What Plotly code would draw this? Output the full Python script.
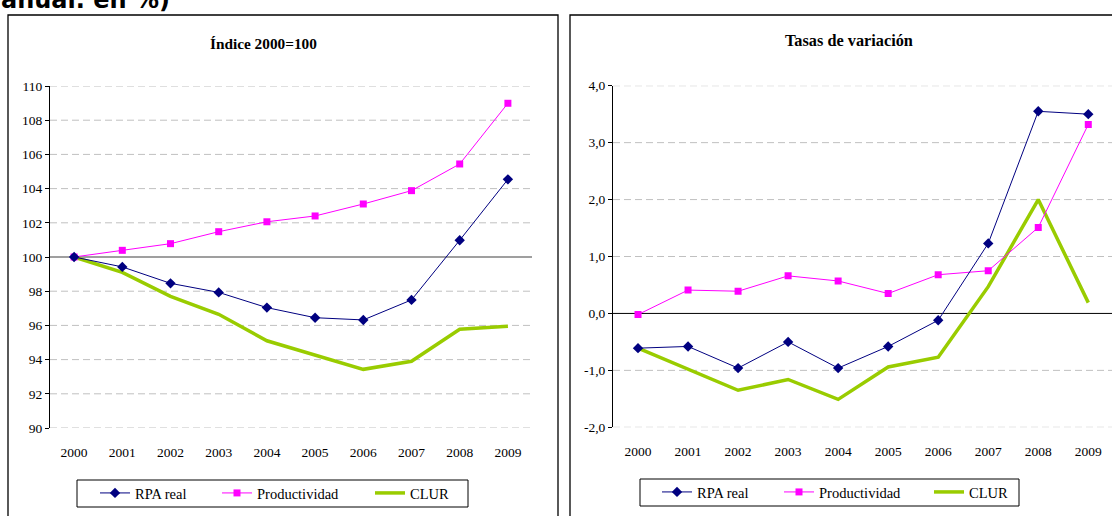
import plotly.graph_objects as go

# ---- data ----
years = ["2000", "2001", "2002", "2003", "2004", "2005", "2006", "2007", "2008", "2009"]

# Índice 2000=100
rpa_idx = [100.0, 99.42, 98.46, 97.93, 97.04, 96.45, 96.32, 97.49, 100.98, 104.54]
prod_idx = [100.0, 100.39, 100.78, 101.48, 102.06, 102.40, 103.10, 103.88, 105.44, 108.99]
clur_idx = [100.0, 99.10, 97.70, 96.65, 95.10, 94.25, 93.43, 93.90, 95.77, 95.95]

# Tasas de variación (%)
rpa_var = [-0.61, -0.58, -0.96, -0.50, -0.96, -0.58, -0.12, 1.23, 3.55, 3.50]
prod_var = [-0.02, 0.41, 0.39, 0.66, 0.57, 0.35, 0.68, 0.75, 1.51, 3.32]
clur_var = [-0.61, -0.98, -1.35, -1.16, -1.51, -0.94, -0.77, 0.47, 2.00, 0.19]

idx_ticks = [90, 92, 94, 96, 98, 100, 102, 104, 106, 108, 110]
idx_base = 100
var_ticks = [-2, -1, 0, 1, 2, 3, 4]
var_ticktext = ["-2,0", "-1,0", "0,0", "1,0", "2,0", "3,0", "4,0"]
var_base = 0

series_names = ["RPA real", "Productividad", "CLUR"]

# ---- styling ----
W, H = 1112, 516
NAVY = "#000080"
MAGENTA = "#FF00FF"
GREEN = "#99CC00"
GRID = "#C0C0C0"
SERIF = "Liberation Serif"


def fx(px):
    return px / W


def fy(py):
    return 1 - py / H


fig = go.Figure()

panels = [
    ("x", "y", rpa_idx, prod_idx, clur_idx, ["legend", "legend2", "legend3"]),
    ("x2", "y2", rpa_var, prod_var, clur_var, ["legend4", "legend5", "legend6"]),
]
for xa, ya, rpa, prod, clur, legs in panels:
    fig.add_trace(go.Scatter(
        x=years, y=clur, name=series_names[2], mode="lines",
        line=dict(color=GREEN, width=3.5), xaxis=xa, yaxis=ya, legend=legs[2]))
    fig.add_trace(go.Scatter(
        x=years, y=prod, name=series_names[1], mode="lines+markers",
        line=dict(color=MAGENTA, width=1),
        marker=dict(symbol="square", size=7, color=MAGENTA),
        xaxis=xa, yaxis=ya, legend=legs[1]))
    fig.add_trace(go.Scatter(
        x=years, y=rpa, name=series_names[0], mode="lines+markers",
        line=dict(color=NAVY, width=1),
        marker=dict(symbol="diamond", size=8, color=NAVY),
        xaxis=xa, yaxis=ya, legend=legs[0]))

common_x = dict(type="category", showline=False, showgrid=False, zeroline=False,
                ticks="", ticklabelstandoff=14,
                tickfont=dict(family=SERIF, size=13.5, color="black"))
common_y = dict(showline=True, linecolor="black", linewidth=1, ticks="outside",
                ticklen=4, tickcolor="black", showgrid=False, zeroline=False,
                tickfont=dict(family=SERIF, size=13.5, color="black"))

legend_base = dict(orientation="h", bgcolor="rgba(0,0,0,0)", borderwidth=0,
                   font=dict(family=SERIF, size=14.5, color="black"),
                   xanchor="left", yanchor="middle", itemclick=False)

legend_x = [100, 222, 375, 662, 784, 934]
legend_y = [493, 493, 493, 492, 492, 492]
legend_layout = {}
for i, (lx, ly) in enumerate(zip(legend_x, legend_y)):
    key = "legend" if i == 0 else f"legend{i + 1}"
    legend_layout[key] = dict(legend_base, x=fx(lx - 5), y=fy(ly))

fig.update_layout(
    width=W, height=H,
    margin=dict(l=0, r=0, t=0, b=0, autoexpand=False),
    paper_bgcolor="white", plot_bgcolor="white",
    font=dict(family=SERIF, color="black"),
    showlegend=True,
    xaxis=dict(common_x, domain=[fx(50), fx(532)], range=[-0.5, 9.5], anchor="y"),
    yaxis=dict(common_y, domain=[fy(428), fy(86)], range=[90, 110],
               tickvals=idx_ticks, anchor="x"),
    xaxis2=dict(common_x, domain=[fx(613), 1.0], range=[-0.5, 9.474], anchor="y2"),
    yaxis2=dict(common_y, domain=[fy(427.3), fy(85.7)], range=[-2, 4],
                tickvals=var_ticks, ticktext=var_ticktext, anchor="x2"),
    **legend_layout,
)

shapes = [
    # panel frames
    dict(type="rect", xref="paper", yref="paper", x0=fx(8), x1=fx(558), y0=fy(530), y1=fy(15),
         line=dict(color="black", width=1.3), layer="below"),
    dict(type="rect", xref="paper", yref="paper", x0=fx(570), x1=fx(1125), y0=fy(530), y1=fy(15),
         line=dict(color="black", width=1.3), layer="below"),
    # legend frames
    dict(type="rect", xref="paper", yref="paper", x0=fx(77), x1=fx(468), y0=fy(507), y1=fy(480),
         line=dict(color="black", width=1), layer="below"),
    dict(type="rect", xref="paper", yref="paper", x0=fx(640), x1=fx(1019), y0=fy(506), y1=fy(479),
         line=dict(color="black", width=1), layer="below"),
]

# dashed horizontal grid at each tick, except where the solid base line sits
for xref, yref, ticks, base in [("x domain", "y", idx_ticks, idx_base),
                                ("x2 domain", "y2", var_ticks, var_base)]:
    for v in ticks:
        if v == base:
            continue
        shapes.append(dict(type="line", xref=xref, yref=yref, x0=0, x1=1, y0=v, y1=v,
                           line=dict(color=GRID, width=1, dash="7px,4px"), layer="below"))

# solid base lines
shapes.append(dict(type="line", xref="x domain", yref="y", x0=0, x1=1, y0=idx_base, y1=idx_base,
                   line=dict(color="#7F7F7F", width=1.5), layer="below"))
shapes.append(dict(type="line", xref="x2 domain", yref="y2", x0=0, x1=1, y0=var_base, y1=var_base,
                   line=dict(color="black", width=1), layer="below"))
fig.update_layout(shapes=shapes)

annotations = [
    dict(text="<b>Índice 2000=100</b>", x=fx(263), y=fy(43), xref="paper", yref="paper",
         showarrow=False, xanchor="center", yanchor="middle",
         font=dict(family=SERIF, size=15.3, color="black")),
    dict(text="<b>Tasas de variación</b>", x=fx(849), y=fy(40), xref="paper", yref="paper",
         showarrow=False, xanchor="center", yanchor="middle",
         font=dict(family=SERIF, size=16.3, color="black")),
    dict(text="<b>anual. en %)</b>", x=fx(172), y=fy(16), xref="paper", yref="paper",
         showarrow=False, xanchor="right", yanchor="bottom",
         font=dict(family="DejaVu Sans", size=24, color="black")),
]
fig.update_layout(annotations=annotations)

fig.write_html("out.html")
